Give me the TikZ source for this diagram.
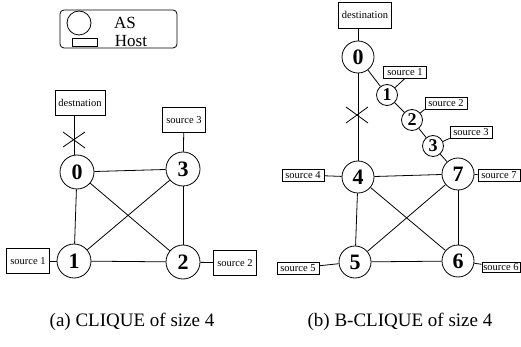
\documentclass[tikz,border=0pt]{standalone}
\usepackage{fontspec}
\setmainfont{Liberation Serif}
\usepackage{tikz}
\usetikzlibrary{positioning}
\tikzstyle{as} = [circle, draw=black, thick, inner sep=0, minimum size=34pt, font=\fontsize{22}{22}\selectfont\bfseries]
\tikzstyle{smallas} = [circle, draw=black, thick, inner sep=0, minimum size=21pt, font=\fontsize{18}{18}\selectfont\bfseries]
\tikzstyle{host} = [rectangle, draw=black, thick, inner sep=0, minimum width=43pt, minimum height=25pt, font=\fontsize{10.5}{10.5}\selectfont]
\tikzstyle{smallhost} = [rectangle, draw=black, thick, inner sep=0, minimum width=42pt, minimum height=12pt, font=\fontsize{10.5}{10.5}\selectfont]
\tikzstyle{link} = [thick]

\begin{document}
\begin{tikzpicture}[x=1pt, y=-1pt]
	\useasboundingbox (0,0) rectangle (521,347);

	% legend
	\node (Legend) [draw, thick, rounded corners=4pt, minimum width=117pt, minimum height=38pt] at (118.5, 29) {};
	\node (LegendAS) [circle, draw, thick, minimum size=24pt, inner sep=0] at (79, 23) {};
	\node (LegendHost) [draw, thick, minimum width=25pt, minimum height=8pt, inner sep=0] at (84.5, 42) {};
	\node (LegendASText) [font=\fontsize{17}{17}\selectfont] at (125, 23) {AS};
	\node (LegendHostText) [font=\fontsize{17}{17}\selectfont] at (131, 41) {Host};

	% clique of size 4
	\node (L0) [as] at (77, 172) {0};
	\node (L3) [as] at (183, 169) {3};
	\node (L1) [as] at (74, 261) {1};
	\node (L2) [as] at (183, 262) {2};
	\draw [link] (L0) -- (L3);
	\draw [link] (L0) -- (L1);
	\draw [link] (L0) -- (L2);
	\draw [link] (L3) -- (L1);
	\draw [link] (L3) -- (L2);
	\draw [link] (L1) -- (L2);

	\node (LDest) [host, minimum width=50pt] at (80, 103) {destnation};
	\draw [link] (LDest.south -| 74, 0) -- (L0.north -| 74, 0);
	\coordinate (LCut) at (74, 140);
	\draw [link] (LCut) ++(-11, -8) -- ++(22, 16);
	\draw [link] (LCut) ++(-11, 7) -- ++(22, -15);

	\node (LSrc3) [host] at (184, 120) {source 3};
	\draw [link] (LSrc3) -- (L3);
	\node (LSrc1) [host] at (28, 261) {source 1};
	\draw [link] (LSrc1) -- (L1);
	\node (LSrc2) [host] at (235, 263) {source 2};
	\draw [link] (LSrc2) -- (L2);

	% b-clique of size 4
	\node (R0) [as, minimum size=32pt] at (358, 57) {0};
	\node (R1) [smallas] at (387, 95) {1};
	\node (R2) [smallas] at (412, 120) {2};
	\node (R3) [smallas] at (433, 146) {3};
	\node (R4) [as, minimum size=32pt] at (358, 177) {4};
	\node (R7) [as, minimum size=32pt] at (458, 174) {7};
	\node (R5) [as, minimum size=32pt] at (355, 262) {5};
	\node (R6) [as, minimum size=32pt] at (458, 261) {6};

	\node (RDest) [host, minimum width=53pt, minimum height=26pt] at (365, 15) {destination};
	\draw [link] (RDest.south -| R0) -- (R0);

	\draw [link] (R0) -- (R1);
	\draw [link] (R1) -- (R2);
	\draw [link] (R2) -- (R3);
	\draw [link] (R3) -- (R7);

	\draw [link] (R0) -- (R4);
	\coordinate (RCut) at (357, 115);
	\draw [link] (RCut) ++(-11, -8) -- ++(22, 16);
	\draw [link] (RCut) ++(-11, 8) -- ++(22, -16);

	\draw [link] (R4) -- (R7);
	\draw [link] (R4) -- (R5);
	\draw [link] (R4) -- (R6);
	\draw [link] (R7) -- (R5);
	\draw [link] (R7) -- (R6);
	\draw [link] (R5) -- (R6);

	% hosts on the path
	\node (RSrc1) [smallhost, minimum width=43pt] at (405, 72) {source 1};
	\draw [link] (R1) -- (RSrc1.south);
	\node (RSrc2) [smallhost] at (446, 103) {source 2};
	\draw [link] (R2) -- (RSrc2.south west);
	\node (RSrc3) [smallhost] at (471, 132) {source 3};
	\draw [link] (R3) -- (RSrc3.south west);

	% hosts on the clique
	\node (RSrc4) [smallhost] at (303, 175) {source 4};
	\draw [link] (RSrc4) -- (R4);
	\node (RSrc7) [smallhost] at (499, 175) {source 7};
	\draw [link] (RSrc7) -- (R7);
	\node (RSrc5) [smallhost] at (298, 268) {source 5};
	\draw [link] (RSrc5) -- (R5);
	\node (RSrc6) [smallhost, minimum width=38pt, minimum height=10pt] at (501, 267) {source 6};
	\draw [link] (RSrc6) -- (R6);

	% captions
	\node (CapA) [font=\fontsize{19}{19}\selectfont] at (132, 322) {(a) CLIQUE of size 4};
	\node (CapB) [font=\fontsize{19}{19}\selectfont] at (400, 322) {(b) B-CLIQUE of size 4};
\end{tikzpicture}
\end{document}
